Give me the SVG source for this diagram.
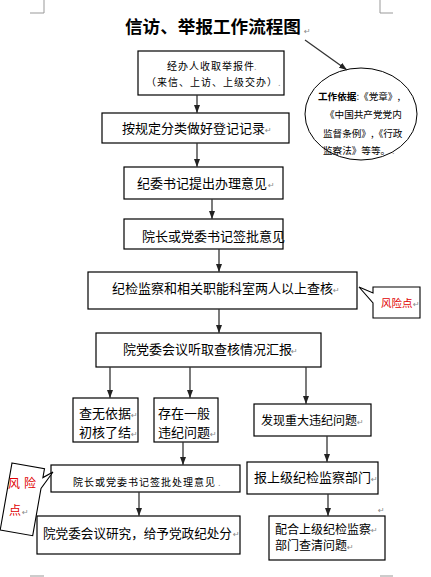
<svg xmlns="http://www.w3.org/2000/svg" width="431" height="577" viewBox="0 0 431 577">
<defs>
<style>
.box{fill:#fff;stroke:#000;stroke-width:1.2}
.t{font-family:"Noto Sans CJK SC","Liberation Sans",sans-serif;fill:#000}
.t13{font-size:13px}
.t12{font-size:12px}
.t10{font-size:10px;letter-spacing:1px}
.pm{font-family:"DejaVu Sans",sans-serif;font-size:8px;fill:#888}
.red{fill:#e00000}
.conn line{stroke:#333;stroke-width:1.3;marker-end:url(#ah)}
.corner{stroke:#999;stroke-width:1;fill:none}
</style>
<marker id="ah" viewBox="0 0 8 6" markerWidth="8" markerHeight="6" refX="8" refY="3" orient="auto" markerUnits="userSpaceOnUse">
<path d="M0,0 L8,3 L0,6 z" fill="#222"/>
</marker>
</defs>
<rect width="431" height="577" fill="#fff"/>
<path class="corner" d="M30,13 H44 V0 M380,0 V13 H393 M30,576 H44 M380,576 H393"/>

<g id="title">
<text class="t" x="125" y="33" font-size="17.6" font-weight="bold">信访、举报工作流程图</text>
<text class="pm" x="304" y="34">↵</text>
</g>

<g id="basis">
<ellipse cx="361" cy="114" rx="56" ry="46" fill="#fff" stroke="#000" stroke-width="1"/>
<text class="t" x="318" y="100" font-size="9.6"><tspan font-weight="bold">工作依据</tspan>:《党章》,</text>
<text class="t" x="325" y="118" font-size="9.6">《中国共产党党内</text>
<text class="t" x="323" y="137" font-size="9.6">监督条例》,《行政</text>
<text class="t" x="323" y="154" font-size="9.6">监察法》等等。</text>
<text class="pm" x="392" y="154" font-size="5">.</text>
</g>

<g id="n1">
<rect class="box" x="138" y="51" width="146" height="44"/>
<text class="t t10" x="167" y="70">经办人收取举报件</text>
<text class="t t10" x="146" y="86">（来信、上访、上级交办）</text>
<text class="pm" x="254" y="70">.</text>
<text class="pm" x="278" y="86">.</text>
</g>

<g id="n2">
<rect class="box" x="102" y="113" width="187" height="30"/>
<text class="t t13" x="122" y="133">按规定分类做好登记记录</text>
<text class="pm" x="265" y="133">↵</text>
</g>

<g id="n3">
<rect class="box" x="124" y="167" width="159" height="32"/>
<text class="t t13" x="137" y="188">纪委书记提出办理意见</text>
<text class="pm" x="268" y="188">↵</text>
</g>

<g id="n4">
<rect class="box" x="124" y="219" width="159" height="30"/>
<text class="t t13" x="142" y="241">院长或党委书记签批意见</text>
</g>

<g id="n5">
<rect class="box" x="88" y="272" width="269" height="37"/>
<text class="t t13" x="112" y="293">纪检监察和相关职能科室两人以上查核</text>
<text class="pm" x="333" y="293">↵</text>
</g>

<g id="risk1">
<polygon points="373,287 420,287 420,318 373,318 373,303 359,287 373,293" fill="#fff" stroke="#000" stroke-width="1.1"/>
<text class="t red" x="381" y="307" font-size="10.5">风险点</text>
<text class="pm" x="413" y="307">↵</text>
</g>

<g id="n6">
<rect class="box" x="96" y="333" width="225" height="34"/>
<text class="t t13" x="123" y="354">院党委会议听取查核情况汇报</text>
<text class="pm" x="291" y="354">↵</text>
</g>

<g id="n7a">
<rect class="box" x="73" y="398" width="65" height="44"/>
<text class="t t13" x="79" y="418">查无依据</text>
<text class="t t13" x="79" y="437">初核了结</text>
<text class="pm" x="131" y="418">↵</text>
<text class="pm" x="131" y="437">↵</text>
</g>

<g id="n7b">
<rect class="box" x="154" y="398" width="64" height="44"/>
<text class="t t13" x="158" y="418">存在一般</text>
<text class="t t13" x="158" y="437">违纪问题</text>
<text class="pm" x="210" y="437">↵</text>
</g>

<g id="n7c">
<rect class="box" x="254" y="404" width="117" height="32"/>
<text class="t t12" x="261" y="425">发现重大违纪问题</text>
<text class="pm" x="357" y="425">↵</text>
</g>

<g id="n8">
<rect class="box" x="51" y="465" width="189" height="27"/>
<text class="t t10" x="73" y="486">院长或党委书记签批处理意见</text>
<text class="pm" x="218" y="486" font-size="6">.</text>
</g>

<g id="risk2">
<polygon points="12,463 44.5,468.7 42.9,477.6 53,472 41,488.4 32.7,535.7 0.2,530" fill="#fff" stroke="#000" stroke-width="1.1"/>
<text class="t red" x="8" y="488" font-size="12">风</text>
<text class="t red" x="24" y="488" font-size="12">险</text>
<text class="t red" x="9" y="515" font-size="12">点</text>
<text class="pm" x="22" y="515">↵</text>
</g>

<g id="n9">
<rect class="box" x="247" y="462" width="131" height="32"/>
<text class="t t13" x="254" y="482">报上级纪检监察部门</text>
<text class="pm" x="371" y="482">↵</text>
</g>

<g id="n10">
<rect class="box" x="37" y="516" width="203" height="38"/>
<text class="t" x="43" y="538" font-size="12.6">院党委会议研究，给予党政纪处分</text>
<text class="pm" x="233" y="537">↵</text>
</g>

<g id="n11">
<rect class="box" x="269" y="516" width="116" height="44"/>
<text class="t t12" x="275" y="534">配合上级纪检监察</text>
<text class="t t12" x="275" y="550">部门查清问题</text>
<text class="pm" x="371" y="533">↵</text>
<text class="pm" x="347" y="550">↵</text>
</g>

<g id="marks">
<text class="pm" x="378" y="513">↵</text>
</g>

<g id="connectors" class="conn">
<line x1="305" y1="40" x2="347" y2="70"/>
<line x1="197" y1="95" x2="197" y2="113"/>
<line x1="197" y1="143" x2="197" y2="167"/>
<line x1="212" y1="199" x2="212" y2="219"/>
<line x1="219" y1="249" x2="219" y2="272"/>
<line x1="219" y1="309" x2="219" y2="333"/>
<line x1="110" y1="367" x2="110" y2="398"/>
<line x1="190" y1="367" x2="190" y2="398"/>
<line x1="306" y1="367" x2="306" y2="404"/>
<line x1="183" y1="442" x2="183" y2="465"/>
<line x1="327" y1="436" x2="327" y2="462"/>
<line x1="139" y1="492" x2="139" y2="516"/>
<line x1="328" y1="494" x2="328" y2="516"/>
</g>
</svg>
